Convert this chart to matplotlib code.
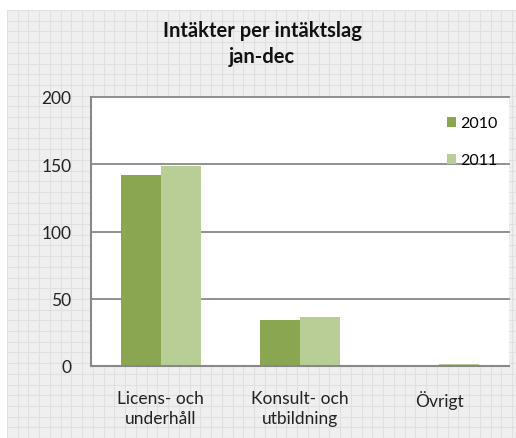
import matplotlib
matplotlib.use("Agg")
import matplotlib.pyplot as plt
import numpy as np

plt.rcParams['font.family'] = ['Lato', 'DejaVu Sans']

# Data
categories = ['Licens- och\nunderhåll', 'Konsult- och\nutbildning', 'Övrigt']
series_names = ['2010', '2011']
values_2010 = [142, 34, 1]
values_2011 = [148.5, 36.5, 1.5]
colors = ['#8AA650', '#B9CE96']

W, H = 516, 439
fig = plt.figure(figsize=(W / 100, H / 100), dpi=100)
fig.patch.set_facecolor('white')

# Background: light gray with a fine grid (worksheet look)
bg = fig.add_axes([7 / W, 0, 1 - 7 / W, (H - 11) / H], zorder=0)
bg.set_facecolor('#EFEFEF')
bg.set_xlim(0, W - 7)
bg.set_ylim(H - 11, 0)
for x in np.arange(0, W, 10.75):
    bg.axvline(x, color='#E0E0E0', lw=0.8)
for y in np.arange(0, H, 10.7):
    bg.axhline(y, color='#E0E0E0', lw=0.8)
bg.set_xticks([])
bg.set_yticks([])
for s in bg.spines.values():
    s.set_visible(False)

# Main chart
ax = fig.add_axes([91 / W, (H - 367) / H, 418 / W, 269 / H], zorder=1)
ax.set_facecolor('white')

x = np.arange(len(categories))
bw = 0.287
ax.bar(x - bw / 2, values_2010, bw, color=colors[0], label=series_names[0], zorder=3)
ax.bar(x + bw / 2, values_2011, bw, color=colors[1], label=series_names[1], zorder=3)

ax.set_xlim(-0.5, 2.5)
ax.set_ylim(0, 200)
ax.set_yticks([0, 50, 100, 150, 200])
ax.set_xticks(x)
ax.set_xticklabels(categories, fontsize=12.5, color='#222222', linespacing=1.35)
ax.tick_params(axis='y', length=0, pad=14, labelsize=12.5, labelcolor='#222222')
ax.tick_params(axis='x', length=0, pad=17)
ax.yaxis.grid(True, color='#888888', lw=1.3, zorder=1)
for gl in ax.get_ygridlines():
    gl.set_clip_on(False)
ax.set_axisbelow(True)

for s in ['top', 'right']:
    ax.spines[s].set_visible(False)
for s in ['left', 'bottom']:
    ax.spines[s].set_color('#888888')
    ax.spines[s].set_linewidth(1.5)
    ax.spines[s].set_zorder(4)

ax.legend(loc='upper right', bbox_to_anchor=(1.0, 0.97), frameon=False, fontsize=11.5,
          handlelength=0.6, handleheight=0.6, handletextpad=0.25, labelspacing=1.45,
          borderaxespad=0.3)

fig.text(262 / W, 1 - 21 / H, 'Intäkter per intäktslag\njan-dec', ha='center', va='top',
         fontsize=14.5, fontweight='bold', color='#111111', linespacing=1.4)

fig.savefig('out.png', dpi=100, facecolor='white')
